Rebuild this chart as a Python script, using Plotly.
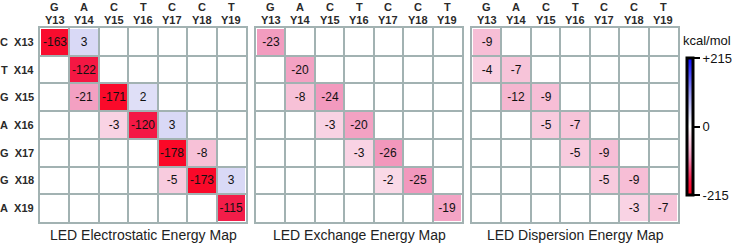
import plotly.graph_objects as go

# ---- data ----
col_bases = ["G", "A", "C", "T", "C", "C", "T"]
col_ids = ["Y13", "Y14", "Y15", "Y16", "Y17", "Y18", "Y19"]
row_bases = ["C", "T", "G", "A", "G", "G", "A"]
row_ids = ["X13", "X14", "X15", "X16", "X17", "X18", "X19"]

N = None
electrostatic = [
    [-163, 3, N, N, N, N, N],
    [N, -122, N, N, N, N, N],
    [N, -21, -171, 2, N, N, N],
    [N, N, -3, -120, 3, N, N],
    [N, N, N, N, -178, -8, N],
    [N, N, N, N, -5, -173, 3],
    [N, N, N, N, N, N, -115],
]
exchange = [
    [-23, N, N, N, N, N, N],
    [N, -20, N, N, N, N, N],
    [N, -8, -24, N, N, N, N],
    [N, N, -3, -20, N, N, N],
    [N, N, N, -3, -26, N, N],
    [N, N, N, N, -2, -25, N],
    [N, N, N, N, N, N, -19],
]
dispersion = [
    [-9, N, N, N, N, N, N],
    [-4, -7, N, N, N, N, N],
    [N, -12, -9, N, N, N, N],
    [N, N, -5, -7, N, N, N],
    [N, N, N, -5, -9, N, N],
    [N, N, N, N, -5, -9, N],
    [N, N, N, N, N, -3, -7],
]
titles = ["LED Electrostatic Energy Map", "LED Exchange Energy Map", "LED Dispersion Energy Map"]
zlim = 215
cb_ticks = [-215, 0, 215]
cb_text = ["-215", "0", "+215"]
unit = "kcal/mol"

# ---- styling ----
FONT = "Arial, Liberation Sans, sans-serif"
GRID = "#a2b2b2"
LABEL = "#2a2a2a"
GAMMA = 0.4


def color_value(v):
    if v is None:
        return None
    s = 1 if v > 0 else (-1 if v < 0 else 0)
    return s * zlim * (abs(v) / zlim) ** GAMMA


neg = [(0.0, (255, 255, 255)), (0.15, (250, 218, 232)), (0.3, (246, 186, 211)),
       (0.45, (241, 145, 184)), (0.65, (240, 70, 115)), (0.8, (244, 22, 66)), (1.0, (255, 0, 24))]
pos = [(0.0, (255, 255, 255)), (0.15, (224, 224, 247)), (0.5, (145, 145, 240)), (1.0, (10, 10, 250))]
stops = []
for t, c in reversed(neg):
    stops.append([0.5 - t / 2, "rgb(%d,%d,%d)" % c])
for t, c in pos[1:]:
    stops.append([0.5 + t / 2, "rgb(%d,%d,%d)" % c])

W, H = 734, 246
panels_px = [(40, 246), (256, 462), (472, 678)]
y_top, y_bot = 28, 222

fig = go.Figure()
datasets = [electrostatic, exchange, dispersion]
for i, data in enumerate(datasets):
    z = [[color_value(v) for v in row] for row in data]
    txt = [["" if v is None else str(v) for v in row] for row in data]
    fig.add_trace(go.Heatmap(
        z=z, text=txt, texttemplate="%{text}",
        textfont=dict(family=FONT, size=12, color="#111"),
        x=list(range(len(col_ids))), y=list(range(len(row_ids))),
        xgap=2, ygap=2, coloraxis="coloraxis", hoverinfo="skip",
        xaxis="x" if i == 0 else "x%d" % (i + 1),
        yaxis="y" if i == 0 else "y%d" % (i + 1),
    ))

layout = dict(
    width=W, height=H, margin=dict(l=0, r=0, t=0, b=0),
    paper_bgcolor="white", plot_bgcolor="white", showlegend=False,
    coloraxis=dict(
        cmin=-zlim, cmax=zlim, colorscale=stops,
        colorbar=dict(
            x=687 / W, xanchor="left", xpad=0, y=1 - 126.5 / H, yanchor="middle", ypad=0,
            len=137, lenmode="pixels", thickness=6, thicknessmode="pixels",
            outlinewidth=3, outlinecolor="black",
            tickmode="array", tickvals=cb_ticks, ticktext=cb_text,
            ticks="outside", ticklen=6, tickwidth=2, tickcolor="black",
            tickfont=dict(family=FONT, size=13, color="#111"),
        ),
    ),
)

minor_vals = [k + 0.5 for k in range(len(col_ids) - 1)]
annotations = []
for i, (x0, x1) in enumerate(panels_px):
    xa = "xaxis" if i == 0 else "xaxis%d" % (i + 1)
    ya = "yaxis" if i == 0 else "yaxis%d" % (i + 1)
    yref = "y" if i == 0 else "y%d" % (i + 1)
    xref = "x" if i == 0 else "x%d" % (i + 1)
    layout[xa] = dict(
        domain=[x0 / W, x1 / W], anchor=yref, range=[-0.5, 6.5],
        showticklabels=False, ticks="", showgrid=False, zeroline=False,
        showline=True, mirror=True, linecolor=GRID, linewidth=2, automargin=False,
        minor=dict(tickmode="array", tickvals=minor_vals, showgrid=True, gridcolor=GRID, gridwidth=2),
        fixedrange=True,
    )
    layout[ya] = dict(
        domain=[1 - y_bot / H, 1 - y_top / H], anchor=xref, range=[6.5, -0.5],
        showticklabels=False, ticks="", showgrid=False, zeroline=False,
        showline=True, mirror=True, linecolor=GRID, linewidth=2, automargin=False,
        minor=dict(tickmode="array", tickvals=minor_vals, showgrid=True, gridcolor=GRID, gridwidth=2),
        fixedrange=True,
    )
    # column headers (two lines)
    for j, (b, c) in enumerate(zip(col_bases, col_ids)):
        for txt, ypx in ((b, 7), (c, 20)):
            annotations.append(dict(
                x=j, xref=xref, y=1 - ypx / H, yref="paper", text="<b>%s</b>" % txt,
                showarrow=False, xanchor="center", yanchor="middle",
                font=dict(family=FONT, size=11, color=LABEL),
            ))
    # panel titles
    annotations.append(dict(
        x=(x0 + x1) / 2 / W, y=1 - 235 / H, xref="paper", yref="paper",
        text=titles[i], showarrow=False, xanchor="center", yanchor="middle",
        font=dict(family=FONT, size=14, color="#222"),
    ))

# row labels (left panel only)
for r, (b, rid) in enumerate(zip(row_bases, row_ids)):
    annotations.append(dict(
        x=36 / W, xref="paper", y=r, yref="y", text="<b>%s\u00a0\u00a0%s</b>" % (b, rid),
        showarrow=False, xanchor="right", yanchor="middle",
        font=dict(family=FONT, size=11, color=LABEL),
    ))

annotations.append(dict(
    x=707 / W, y=1 - 40 / H, xref="paper", yref="paper", text=unit, showarrow=False,
    xanchor="center", yanchor="middle", font=dict(family=FONT, size=13, color="#111"),
))
layout["annotations"] = annotations
fig.update_layout(**layout)
fig.write_html("out.html", config={"displayModeBar": False},
               post_script="document.body.style.margin='0px';")
